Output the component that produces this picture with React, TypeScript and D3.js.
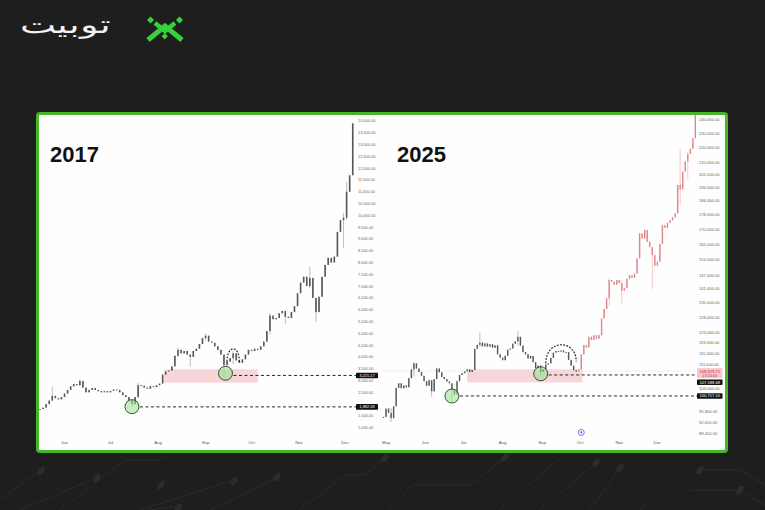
import { useEffect, useRef } from 'react';
import * as d3 from 'd3';

// 2017 daily candles, one close every 2 days starting 16 May 2017
const start2017 = new Date(2017, 4, 16);
const closes2017 = [
    1790, 1850, 2000, 2150, 2350, 2250, 2200, 2300, 2450, 2600,
    2750, 2850, 2800, 2980, 2700, 2500, 2600, 2680, 2600, 2550,
    2500, 2550, 2500, 2560, 2620, 2600, 2500, 2380, 2300, 2150,
    2000, 2300, 2800, 2780, 2700, 2650, 2760, 2720, 2800, 2870,
    3250, 3380, 3420, 3600, 4050, 4300, 4150, 4250, 4100, 4000,
    4250, 4350, 4550, 4800, 4900, 4650, 4600, 4450, 4300, 4100,
    3650, 3800, 3950, 4150, 3850, 3750, 3900, 4100, 4300, 4250,
    4350, 4300, 4450, 4650, 5100, 5750, 5600, 5650, 5850, 5950,
    5700, 5650, 5900, 6150, 6700, 7150, 7400, 7000, 7350, 6500,
    5900, 6550, 7400, 7900, 8200, 8000, 8250, 9300, 9800, 9900,
    11000, 11700, 13900, 14600,
];
// [day, high, low]
const wicks2017 = [
    [8, 2740, 2200], [26, 3050, 2750], [60, 2100, 1880], [64, 2900, 2250],
    [90, 4400, 4000], [98, 4100, 3600], [108, 4980, 4700], [120, 3900, 3100],
    [126, 4250, 3700], [150, 5850, 4950], [160, 5950, 5400], [176, 7830, 6900],
    [180, 6400, 5490], [198, 10100, 8620], [200, 11430, 9800],
];

// 2025: real candles until late Sep, then the pink projection
const start2025 = new Date(2025, 3, 29);
const closes2025 = [
    94300, 96800, 95500, 93900, 97500, 103300, 104800, 103200, 104100, 103500,
    106500, 109500, 111600, 109800, 108600, 107300, 105500, 104000, 105800, 102200,
    106200, 109800, 108500, 106900, 106200, 105400, 104800, 102800, 101200, 105500,
    107600, 108200, 108800, 109500, 108600, 109300, 116800, 118300, 119100, 117700,
    118800, 117600, 118500, 117200, 118100, 114800, 113600, 112700, 114300, 116500,
    116900, 118700, 119600, 121300, 118000, 115600, 114800, 113300, 114200, 112000,
    109900, 110800, 108600, 109600, 111200, 111600, 113500, 115400, 116000, 115800,
    116200, 115500, 115600, 112800, 110800, 109200, 108700,
];
const projection2025 = [
    109500, 114800, 118200, 117300, 121300, 120100, 121900, 120600, 121900, 128500,
    132400, 136900, 145000, 144200, 142900, 145000, 143600, 140200, 141300, 145500,
    147200, 146000, 148000, 155200, 167900, 165200, 169700, 163500, 160800, 156800,
    151700, 153600, 162400, 172300, 170800, 173500, 174900, 176600, 178800, 195500,
    192800, 203800, 210600, 215400, 219000, 226400, 246000,
];
const wicks2025 = [
    [6, 97000, 92800], [24, 112000, 107000], [38, 105000, 100500], [54, 104500, 98600],
    [76, 122900, 117500], [106, 123500, 118000], [124, 109500, 107400],
    [178, 146000, 133800], [188, 145000, 134500], [212, 160000, 141000],
    [234, 219000, 184000], [240, 217000, 199000],
];

// tick labels (the ones hidden behind the level boxes are left out)
const ticks2017 = [
    1000, 1500, 2500, 3000, 3500, 4000, 4500, 5000, 5500, 6000, 6500, 7000,
    7500, 8000, 8500, 9000, 9500, 10000, 10500, 11000, 11500, 12000, 12500, 13000, 13500, 14000,
];
const ticks2025 = [
    240000, 230000, 220000, 210000, 202000, 194000, 186000, 178000, 170000, 162000,
    154500, 147000, 141000, 135000, 129000, 123000, 119000, 115000, 111000, 103000,
    95900, 92650, 89450,
];
const months2017 = ['Jun', 'Jul', 'Aug', 'Sep', 'Oct', 'Nov', 'Dec'];
const months2025 = ['May', 'Jun', 'Jul', 'Aug', 'Sep', 'Oct', 'Nov', 'Dec'];

// price markers on the axes
const levels2017 = [3215.17, 1882.58];
const levels2025 = [107588.68, 100717.1];
const lastPrice2025 = 108929.75;
const countdown2025 = '13:20:44';

// annotations: [date, price]
const circles2017 = [[new Date(2017, 6, 15), 1890], [new Date(2017, 8, 14), 3306]];
const circles2025 = [[new Date(2025, 5, 22), 100700], [new Date(2025, 7, 31), 108000]];
const zone2017 = [new Date(2017, 7, 5), new Date(2017, 9, 5), 2908, 3476];
const zone2025 = [new Date(2025, 6, 4), new Date(2025, 9, 3), 105100, 109500];
const arc2017 = [[new Date(2017, 8, 15), 3800], [new Date(2017, 8, 19), 4340], [new Date(2017, 8, 23), 3800]];
const arc2025 = [[new Date(2025, 8, 4), 111600], [new Date(2025, 8, 15), 118300], [new Date(2025, 8, 28), 112200]];

const fmt = d3.format(',.2f');

const App = () => {
    const svgRef = useRef<SVGSVGElement>(null);

    useEffect(() => {
        const svg = d3.select(svgRef.current);
        svg.selectAll('*').remove();

        // background
        svg.append('rect').attr('width', 765).attr('height', 510).attr('fill', '#1e1e1e');
        const circuit = svg.append('g').attr('stroke', '#2b2b2b').attr('fill', 'none').attr('stroke-width', 1);
        const traces = [
            'M0,500 L40,470', 'M20,510 L96,478', 'M60,510 L125,460 L160,460 L165,456',
            'M140,510 L234,480', 'M210,510 L277,478', 'M150,510 L178,506',
            'M300,510 L345,475 L365,475 L385,458', 'M390,510 L412,485 L470,485 L505,457',
            'M500,510 L560,458', 'M540,510 L596,463', 'M590,510 L620,468', 'M640,510 L690,456',
            'M690,490 L740,490 L765,505', 'M700,470 L740,470 L765,485', 'M10,330 L0,340', 'M0,420 L30,390',
        ];
        traces.forEach((d) => circuit.append('path').attr('d', d));
        const pads = [[41, 471], [97, 478], [161, 485], [234, 481], [277, 477], [178, 508], [385, 458], [505, 457], [596, 463], [620, 468], [700, 470], [740, 490]];
        svg.append('g')
            .selectAll('ellipse')
            .data(pads)
            .join('ellipse')
            .attr('cx', (d) => d[0])
            .attr('cy', (d) => d[1])
            .attr('rx', 3)
            .attr('ry', 5)
            .attr('transform', (d) => `rotate(35,${d[0]},${d[1]})`)
            .attr('fill', '#2c2c2c');

        // logo
        const logo = svg.append('g');
        logo.append('text')
            .attr('x', 0)
            .attr('y', 0)
            .attr('transform', 'translate(111,33) scale(1.6,1)')
            .attr('text-anchor', 'end')
            .attr('font-family', 'DejaVu Sans')
            .attr('font-size', 24)
            .attr('font-weight', 300)
            .attr('fill', '#f2f2f2')
            .text('توبیت');
        const green = '#35d03a';
        logo.append('rect').attr('x', 148).attr('y', 17.5).attr('width', 5).attr('height', 5)
            .attr('transform', 'rotate(45,150.5,20)').attr('fill', green);
        logo.append('rect').attr('x', 177).attr('y', 17.5).attr('width', 5).attr('height', 5)
            .attr('transform', 'rotate(45,179.5,20)').attr('fill', green);
        logo.append('path').attr('d', 'M155,23 L165,31 L175,23').attr('stroke', green).attr('stroke-width', 4.5).attr('fill', 'none');
        logo.append('path').attr('d', 'M148,40 L165,26 L182,40').attr('stroke', green).attr('stroke-width', 5).attr('fill', 'none');
        logo.append('rect').attr('x', 162.5).attr('y', 34).attr('width', 4.5).attr('height', 4.5)
            .attr('transform', 'rotate(45,164.75,36.25)').attr('fill', green);

        // panel
        svg.append('rect')
            .attr('x', 37.5).attr('y', 113.5).attr('width', 689).attr('height', 338).attr('rx', 2.5)
            .attr('fill', '#fefefe').attr('stroke', '#45b52b').attr('stroke-width', 3);

        const buildCandles = (start, closes, firstDay, firstOpen, wicks) => {
            const wickMap = new Map(wicks.map((w) => [w[0], w]));
            return closes.map((c, i) => {
                const day = firstDay + 2 * i;
                const open = i > 0 ? closes[i - 1] : firstOpen ?? c;
                const w = wickMap.get(day);
                return {
                    date: d3.timeDay.offset(start, day),
                    open,
                    close: c,
                    high: w ? Math.max(w[1], open, c) : Math.max(open, c),
                    low: w ? Math.min(w[2], open, c) : Math.min(open, c),
                };
            });
        };

        const drawChart = (opts) => {
            const { id, x, y, series, ticks, months, year, levels, plot } = opts;
            const g = svg.append('g');
            g.append('clipPath').attr('id', id).append('rect')
                .attr('x', plot[0]).attr('y', 115).attr('width', plot[1] - plot[0]).attr('height', 335);

            // pink zone
            const z = opts.zone;
            g.append('rect')
                .attr('x', x(z[0])).attr('y', y(z[3]))
                .attr('width', x(z[1]) - x(z[0])).attr('height', y(z[2]) - y(z[3]))
                .attr('fill', '#f7d6da');

            if (opts.priceLine) {
                g.append('line')
                    .attr('x1', plot[0]).attr('x2', plot[1])
                    .attr('y1', y(opts.priceLine)).attr('y2', y(opts.priceLine))
                    .attr('stroke', '#f6dade').attr('stroke-width', 0.5);
            }

            const cg = g.append('g').attr('clip-path', `url(#${id})`);
            series.forEach((s) => {
                const sel = cg.append('g');
                sel.selectAll('line')
                    .data(s.data)
                    .join('line')
                    .attr('x1', (d) => x(d.date)).attr('x2', (d) => x(d.date))
                    .attr('y1', (d) => y(d.high)).attr('y2', (d) => y(d.low))
                    .attr('stroke', s.wick).attr('stroke-width', 0.7);
                sel.selectAll('rect')
                    .data(s.data)
                    .join('rect')
                    .attr('x', (d) => x(d.date) - s.bw / 2)
                    .attr('width', s.bw)
                    .attr('y', (d) => y(Math.max(d.open, d.close)))
                    .attr('height', (d) => Math.max(0.9, Math.abs(y(d.open) - y(d.close))))
                    .attr('fill', s.body);
            });

            // dashed levels from the circles
            opts.levelStarts.forEach((d, i) => {
                g.append('line')
                    .attr('x1', x(d) + 8).attr('x2', plot[1] + 1)
                    .attr('y1', y(levels[i])).attr('y2', y(levels[i]))
                    .attr('stroke', '#111').attr('stroke-width', 0.9).attr('stroke-dasharray', '3,2.5');
            });

            // circles
            g.selectAll('circle.mark')
                .data(opts.circles)
                .join('circle')
                .attr('class', 'mark')
                .attr('cx', (d) => x(d[0])).attr('cy', (d) => y(d[1])).attr('r', 7)
                .attr('fill', 'rgba(150,225,140,0.55)').attr('stroke', '#253f22').attr('stroke-width', 0.9);

            // dotted arc
            const [a, b, c] = opts.arc.map((p) => [x(p[0]), y(p[1])]);
            const cy = (b[1] - 0.125 * (a[1] + c[1])) / 0.75;
            g.append('path')
                .attr('d', `M${a[0]},${a[1]} C${a[0]},${cy} ${c[0]},${cy} ${c[0]},${c[1]}`)
                .attr('fill', 'none').attr('stroke', '#111').attr('stroke-width', 1.1).attr('stroke-dasharray', '1.8,1.4');

            // y-axis labels
            g.selectAll('text.tick')
                .data(ticks)
                .join('text')
                .attr('class', 'tick')
                .attr('x', plot[1] + 3)
                .attr('y', (d) => y(d) + 1.4)
                .attr('font-family', 'Liberation Sans, Arial, sans-serif')
                .attr('font-size', opts.tickSize)
                .attr('fill', '#666')
                .text((d) => fmt(d));

            // x-axis month labels
            g.selectAll('text.month')
                .data(months)
                .join('text')
                .attr('class', 'month')
                .attr('x', (d, i) => x(new Date(year, opts.firstMonth + i, 1)))
                .attr('y', 443.5)
                .attr('text-anchor', 'middle')
                .attr('font-family', 'Liberation Sans, Arial, sans-serif')
                .attr('font-size', 4.3)
                .attr('fill', '#555')
                .text((d) => d);

            // level boxes
            levels.forEach((v, i) => {
                const yy = opts.boxY ? opts.boxY[i] ?? y(v) : y(v);
                g.append('rect')
                    .attr('x', plot[1] + 1).attr('y', yy - 2.8).attr('width', opts.boxW).attr('height', 5.6).attr('rx', 0.8)
                    .attr('fill', '#111');
                g.append('text')
                    .attr('x', plot[1] + 1 + opts.boxW / 2).attr('y', yy + 1.5)
                    .attr('text-anchor', 'middle')
                    .attr('font-family', 'Liberation Sans, Arial, sans-serif')
                    .attr('font-size', opts.tickSize).attr('fill', '#fff')
                    .text(fmt(v));
            });

            // big year label
            g.append('text')
                .attr('x', plot[0] + opts.yearDx).attr('y', 161.5)
                .attr('font-family', 'Liberation Sans, Arial, sans-serif')
                .attr('font-weight', 'bold').attr('font-size', 22).attr('fill', '#111')
                .text(String(year));
            return g;
        };

        // 2017
        const x17 = d3.scaleTime().domain([new Date(2017, 4, 16), new Date(2017, 11, 8)]).range([40, 355.8]);
        const y17 = d3.scaleLinear().domain([1000, 14000]).range([427.7, 121]);
        drawChart({
            id: 'clip17', x: x17, y: y17, year: 2017, firstMonth: 5, months: months2017, ticks: ticks2017,
            plot: [38, 355], yearDx: 12, tickSize: 3.9, boxW: 22,
            series: [{ data: buildCandles(start2017, closes2017, 0, 1760, wicks2017), body: '#575757', wick: '#a0a0a0', bw: 1.6 }],
            levels: levels2017, levelStarts: [circles2017[1][0], circles2017[0][0]],
            circles: circles2017, zone: zone2017, arc: arc2017,
        });

        // 2025
        const x25 = d3.scaleTime().domain([new Date(2025, 3, 28), new Date(2025, 11, 31)]).range([382.2, 695.4]);
        const y25 = d3.scaleLog().domain([89450, 240000]).range([433.7, 119.7]);
        const g25 = drawChart({
            id: 'clip25', x: x25, y: y25, year: 2025, firstMonth: 4, months: months2025, ticks: ticks2025,
            plot: [382, 696], yearDx: 15, tickSize: 4.1, boxW: 25.5,
            series: [
                { data: buildCandles(start2025, closes2025, 0, 94000, wicks2025), body: '#575757', wick: '#a0a0a0', bw: 1.4 },
                { data: buildCandles(start2025, projection2025, 154, closes2025[closes2025.length - 1], wicks2025), body: '#e2858b', wick: '#eeb1b5', bw: 1.4 },
            ],
            levels: levels2025, levelStarts: [circles2025[1][0], circles2025[0][0]], boxY: [382.3],
            circles: circles2025, zone: zone2025, arc: arc2025, priceLine: lastPrice2025,
        });

        // last price tag with countdown
        const ly = y25(lastPrice2025);
        g25.append('rect').attr('x', 697).attr('y', ly - 2.9).attr('width', 25.5).attr('height', 10).attr('fill', '#f6c9ce');
        g25.append('text').attr('x', 709.7).attr('y', ly + 1.5).attr('text-anchor', 'middle')
            .attr('font-family', 'Liberation Sans, Arial, sans-serif').attr('font-size', 4.1).attr('fill', '#b8323c')
            .text(fmt(lastPrice2025));
        g25.append('text').attr('x', 709.7).attr('y', ly + 6).attr('text-anchor', 'middle')
            .attr('font-family', 'Liberation Sans, Arial, sans-serif').attr('font-size', 3.8).attr('fill', '#b8323c')
            .text(countdown2025);

        // small event icon on the time axis
        const ix = x25(new Date(2025, 9, 2));
        const iy = y25(89800);
        g25.append('circle').attr('cx', ix).attr('cy', iy).attr('r', 3).attr('fill', 'none').attr('stroke', '#7a5bd8').attr('stroke-width', 0.9);
        g25.append('circle').attr('cx', ix).attr('cy', iy).attr('r', 1.1).attr('fill', '#7a5bd8');
    }, []);

    return (
        <div style={{ position: 'fixed', left: 0, top: 0 }}>
            <svg ref={svgRef} width={765} height={510} style={{ display: 'block' }}></svg>
        </div>
    );
};

export default App;
